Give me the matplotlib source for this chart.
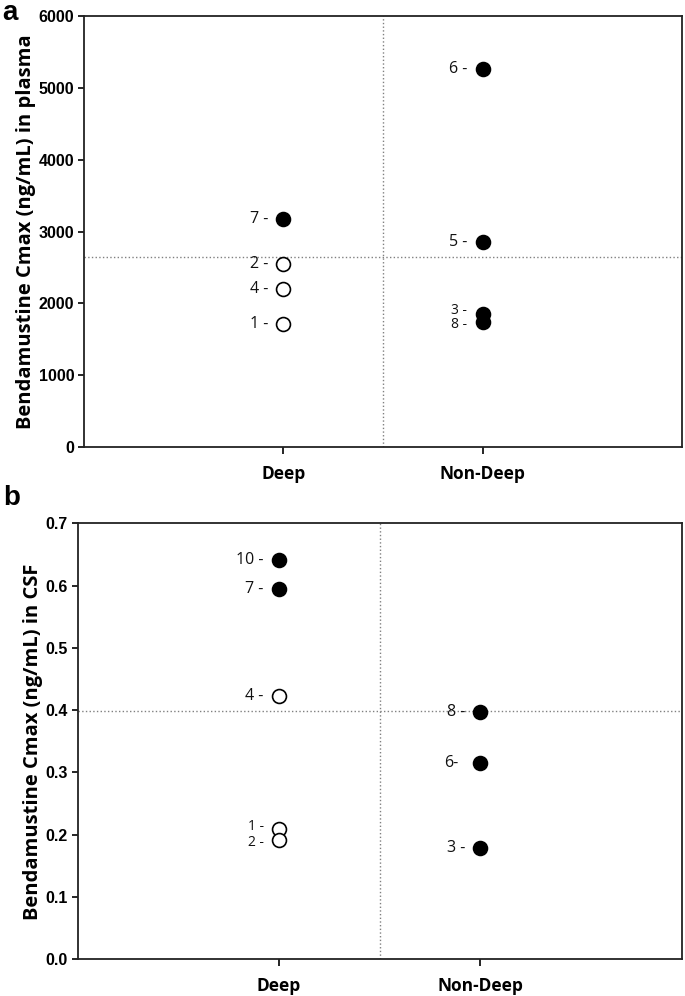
import matplotlib
matplotlib.use('Agg')
import matplotlib.pyplot as plt

# panel a: plasma Cmax (ng/mL)
plasma_deep_ids = ['7 -', '2 -', '4 -', '1 -']
plasma_deep_vals = [3180, 2545, 2195, 1710]
plasma_deep_filled = [True, False, False, False]
plasma_non_ids = ['6 -', '5 -', '3 -', '8 -']
plasma_non_vals = [5265, 2855, 1855, 1745]
plasma_non_filled = [True, True, True, True]
plasma_cut = 2645

# panel b: CSF Cmax (ng/mL)
csf_deep_ids = ['10 -', '7 -', '4 -', '1 -', '2 -']
csf_deep_vals = [0.641, 0.594, 0.423, 0.210, 0.191]
csf_deep_filled = [True, True, False, False, False]
csf_non_ids = ['8 -', '6-', '3 -']
csf_non_vals = [0.397, 0.315, 0.179]
csf_non_filled = [True, True, True]
csf_cut = 0.398

groups = ['Deep', 'Non-Deep']

label_font = ['Open Sans', 'DejaVu Sans']
tick_font = ['Liberation Sans', 'DejaVu Sans']

# labels of crowded points are drawn smaller and nudged apart (pixels)
crowded = {('a', '3 -'): 3, ('a', '8 -'): -3, ('b', '1 -'): 2, ('b', '2 -'): -2}


def draw_group(ax, xpos, ids, vals, filled):
    for name, v, f in zip(ids, vals, filled):
        ax.plot(xpos, v, 'o', ms=10, mec='black', mew=1.2,
                mfc='black' if f else 'white', zorder=3)
        key = (ax.get_label(), name)
        dy = crowded.get(key, 0)
        fs = 10 if key in crowded else 11.5
        off = -11 if name.endswith(' -') else -16
        ax.annotate(name, (xpos, v), xytext=(off, dy * 0.72), textcoords='offset points',
                    ha='right', va='center', fontsize=fs, family=label_font,
                    color='#111111')


def style_axis(ax, ylim, yticks, ylab, yfmt):
    ax.set_xlim(0, 3)
    ax.set_ylim(*ylim)
    ax.set_xticks([1, 2])
    ax.set_xticklabels(groups, fontsize=12.5, fontweight='bold', family=label_font)
    ax.set_yticks(yticks)
    ax.set_yticklabels([yfmt.format(t) for t in yticks], fontsize=11.5,
                       fontweight='bold', family=tick_font)
    ax.tick_params(direction='out', length=4, width=1.2, pad=3)
    ax.tick_params(axis='x', length=5, pad=8)
    for s in ax.spines.values():
        s.set_linewidth(1.3)
        s.set_color('#222222')
    ax.set_ylabel(ylab, fontsize=14.5, fontweight='bold', family=label_font, labelpad=2)


fig = plt.figure(figsize=(6.85, 9.96), dpi=100)

ax1 = fig.add_axes([0.1226, 0.5512, 0.873, 0.4324], label='a')
ax1.axhline(plasma_cut, color='gray', ls=':', lw=1)
ax1.axvline(1.5, color='gray', ls=':', lw=1)
draw_group(ax1, 1, plasma_deep_ids, plasma_deep_vals, plasma_deep_filled)
draw_group(ax1, 2, plasma_non_ids, plasma_non_vals, plasma_non_filled)
style_axis(ax1, (0, 6000), [0, 1000, 2000, 3000, 4000, 5000, 6000],
           'Bendamustine Cmax (ng/mL) in plasma', '{:d}')

ax2 = fig.add_axes([0.1134, 0.0368, 0.8818, 0.4378], label='b')
ax2.axhline(csf_cut, color='gray', ls=':', lw=1)
ax2.axvline(1.5, color='gray', ls=':', lw=1)
draw_group(ax2, 1, csf_deep_ids, csf_deep_vals, csf_deep_filled)
draw_group(ax2, 2, csf_non_ids, csf_non_vals, csf_non_filled)
style_axis(ax2, (0, 0.7), [0, 0.1, 0.2, 0.3, 0.4, 0.5, 0.6, 0.7],
           'Bendamustine Cmax (ng/mL) in CSF', '{:.1f}')

fig.text(0.004, 1.0, 'a', fontsize=20, fontweight='bold', ha='left', va='top',
         family=tick_font)
fig.text(0.004, 0.513, 'b', fontsize=20, fontweight='bold', ha='left', va='top',
         family=tick_font)

fig.savefig('out.png', dpi=100)
